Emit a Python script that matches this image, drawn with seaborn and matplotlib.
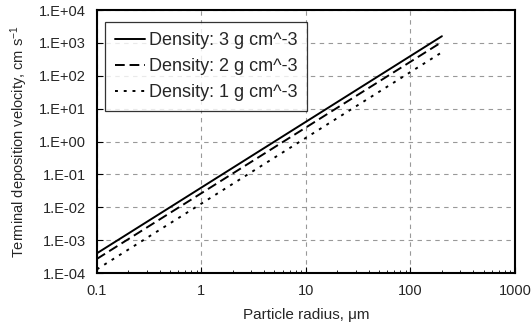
import numpy as np
import pandas as pd
import matplotlib
matplotlib.use("Agg")
import matplotlib.pyplot as plt
import seaborn as sns

# particle radius (um) at both ends of each line
radius = [0.1, 200.0]
# terminal deposition velocity (cm/s)
vel_3 = [4.0e-4, 1.6e3]
vel_2 = [2.7e-4, 1.07e3]
vel_1 = [1.3e-4, 5.2e2]
labels = ["Density: 3 g cm^-3", "Density: 2 g cm^-3", "Density: 1 g cm^-3"]

xticks = [0.1, 1, 10, 100, 1000]
xticklabels = ["0.1", "1", "10", "100", "1000"]
yticks = [1e-4, 1e-3, 1e-2, 1e-1, 1e0, 1e1, 1e2, 1e3, 1e4]
yticklabels = ["1.E-04", "1.E-03", "1.E-02", "1.E-01", "1.E+00",
               "1.E+01", "1.E+02", "1.E+03", "1.E+04"]

df = pd.DataFrame({
    "radius": radius * 3,
    "velocity": vel_3 + vel_2 + vel_1,
    "series": [labels[0]] * 2 + [labels[1]] * 2 + [labels[2]] * 2,
})

sns.set_style("ticks")
plt.rcParams["font.family"] = ["Liberation Sans", "DejaVu Sans"]
plt.rcParams["mathtext.fontset"] = "custom"
plt.rcParams["mathtext.rm"] = "Liberation Sans"
plt.rcParams["mathtext.it"] = "Liberation Sans:italic"

fig = plt.figure(figsize=(5.32, 3.24), dpi=100)
ax = fig.add_axes([0.182, 0.157, 0.786, 0.812])

dashes = {labels[0]: "", labels[1]: (5, 2.5), labels[2]: (1.5, 3)}
sns.lineplot(data=df, x="radius", y="velocity", style="series",
             dashes=dashes, color="black", linewidth=1.4, ax=ax,
             legend=True)

ax.set_xscale("log")
ax.set_yscale("log")
ax.set_xlim(0.1, 1000)
ax.set_ylim(1e-4, 1e4)
ax.set_xticks(xticks)
ax.set_xticklabels(xticklabels, fontsize=10.5)
ax.set_yticks(yticks)
ax.set_yticklabels(yticklabels, fontsize=10.5)
ax.yaxis.set_minor_locator(matplotlib.ticker.NullLocator())
ax.tick_params(axis="both", which="major", direction="in", length=4,
               color="black", pad=8)
ax.tick_params(axis="x", which="minor", direction="in", length=2.5,
               color="black")

ax.grid(True, which="major", linestyle=(0, (4, 4)), color="#999999",
        linewidth=0.8)
for s in ax.spines.values():
    s.set_visible(True)
    s.set_color("black")
    s.set_linewidth(1.5)

ax.set_xlabel("Particle radius, μm", fontsize=11, labelpad=7)
ax.set_ylabel("Terminal deposition velocity, cm s$^{-1}$", fontsize=10.5,
              labelpad=6)

leg = ax.legend(loc="upper left", bbox_to_anchor=(0.019, 0.954),
                borderaxespad=0, fontsize=13, frameon=True, fancybox=False,
                edgecolor="black", handlelength=1.7, handletextpad=0.2,
                labelspacing=0.5, borderpad=0.55, title=None)
leg.get_frame().set_linewidth(0.9)
for line in leg.get_lines():
    line.set_linewidth(1.4)
    line.set_color("black")

fig.savefig("out.png", dpi=100)
